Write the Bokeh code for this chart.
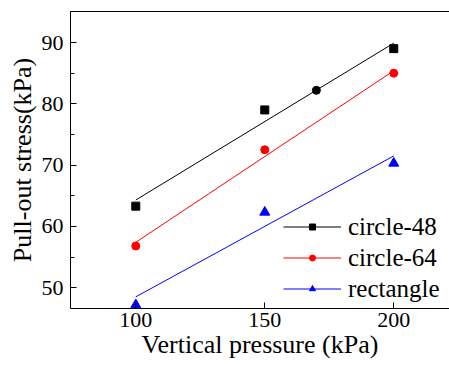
from bokeh.plotting import figure
from bokeh.models import (Range1d, LinearAxis, SingleIntervalTicker, FixedTicker,
                          Legend, LegendItem)
from bokeh.embed import file_html
from bokeh.resources import INLINE

# ---- data ----
pressure = [100, 150, 200]
circle48 = [63.3, 79.0, 89.0]
circle64 = [56.8, 72.5, 85.0]
rectangle = [47.2, 62.3, 70.3]
extra_x = [170]
extra_y = [82.2]
fit_x = [100, 200]
fit48 = [64.3, 89.9]
fit64 = [57.4, 85.4]
fit_rect = [48.5, 71.5]

FONT = "'Liberation Serif', 'Times New Roman', serif"

p = figure(width=449, height=365, output_backend="svg", toolbar_location=None,
           x_range=Range1d(74.7, 221.6), y_range=Range1d(46.6, 95.06),
           min_border_left=70, min_border_right=0, min_border_top=11, min_border_bottom=57,
           x_axis_label="Vertical pressure (kPa)", y_axis_label="Pull-out stress(kPa)")
p.outline_line_color = None
p.xgrid.visible = False
p.ygrid.visible = False
p.background_fill_color = "white"
p.border_fill_color = "white"

# axes
xa = p.xaxis[0]
xa.ticker = SingleIntervalTicker(interval=50, num_minor_ticks=0)
ya = p.yaxis[0]
ya.ticker = SingleIntervalTicker(interval=10, num_minor_ticks=2)
for ax in (xa, ya):
    ax.axis_line_color = "black"
    ax.axis_line_width = 1
    ax.major_tick_in = 6
    ax.major_tick_out = 0
    ax.minor_tick_in = 4
    ax.minor_tick_out = 0
    ax.major_tick_line_color = "black"
    ax.minor_tick_line_color = "black"
    ax.major_label_text_font = FONT
    ax.major_label_text_font_size = "22px"
    ax.major_label_text_color = "black"
    ax.axis_label_text_font = FONT
    ax.axis_label_text_font_size = "26px"
    ax.axis_label_text_font_style = "normal"
    ax.axis_label_text_color = "black"
xa.major_label_standoff = 4
xa.axis_label_standoff = 0
ya.major_label_standoff = 7
ya.axis_label_standoff = 2

top = LinearAxis(ticker=FixedTicker(ticks=[]), major_tick_out=0, major_tick_in=0,
                 minor_tick_out=0, minor_tick_in=0, major_label_text_font_size="0px",
                 major_label_standoff=0, axis_line_color="black")
p.add_layout(top, "above")

# fit lines
l48 = p.line(fit_x, fit48, line_color="black", line_width=1)
l64 = p.line(fit_x, fit64, line_color="red", line_width=1)
lr = p.line(fit_x, fit_rect, line_color="blue", line_width=1)

# markers
s48 = p.scatter(pressure, circle48, marker="square", size=8, color="black")
p.scatter(extra_x, extra_y, marker="circle", size=8, color="black")
s64 = p.scatter(pressure, circle64, marker="circle", size=8, color="red")
sr = p.scatter(pressure, rectangle, marker="triangle", size=10, color="blue")

legend = Legend(items=[
    LegendItem(label="circle-48", renderers=[l48, s48]),
    LegendItem(label="circle-64", renderers=[l64, s64]),
    LegendItem(label="rectangle", renderers=[lr, sr]),
], location=(213, 4))
legend.border_line_color = None
legend.background_fill_alpha = 0
legend.padding = 0
legend.margin = 0
legend.spacing = 0
legend.glyph_width = 58
legend.glyph_height = 15
legend.label_height = 31
legend.label_standoff = 7
legend.label_text_font = FONT
legend.label_text_font_size = "25px"
legend.label_text_color = "black"
p.add_layout(legend, "center")

open("out.html", "w").write(file_html(p, INLINE))
